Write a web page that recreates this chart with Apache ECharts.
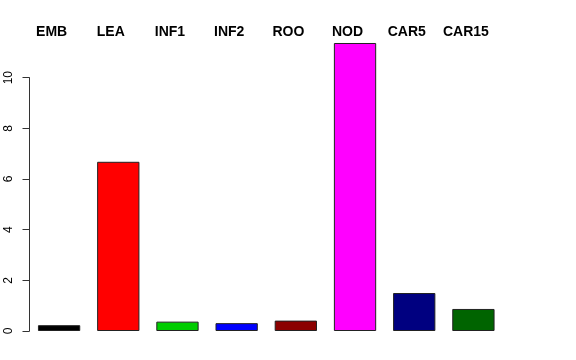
<!DOCTYPE html>
<html>
<head>
<meta charset="utf-8">
<script src="https://cdn.jsdelivr.net/npm/echarts@6/dist/echarts.min.js"></script>
<style>html,body{margin:0;padding:0;background:#fff;}#c{width:576px;height:360px;}</style>
</head>
<body>
<div id="c"></div>
<script>
var categories = ['EMB', 'LEA', 'INF1', 'INF2', 'ROO', 'NOD', 'CAR5', 'CAR15'];
var values = [0.23, 6.68, 0.37, 0.31, 0.41, 11.37, 1.50, 0.87];
var barColors = ['#000000', '#FF0000', '#00CD00', '#0000FF', '#8B0000', '#FF00FF', '#000080', '#006400'];
var yTicks = [0, 2, 4, 6, 8, 10];

var chart = echarts.init(document.getElementById('c'), null, {renderer: 'canvas'});
chart.setOption({
  animation: false,
  backgroundColor: '#ffffff',
  grid: {left: 29.5, right: 73, top: 77.7, bottom: 29, containLabel: false},
  xAxis: {
    type: 'category',
    position: 'top',
    data: categories,
    axisLine: {show: false},
    axisTick: {show: false},
    splitLine: {show: false},
    axisLabel: {
      margin: 39,
      interval: 0,
      fontFamily: 'Liberation Sans, Arial, sans-serif',
      fontWeight: 'bold',
      fontSize: 14,
      color: '#000',
      padding: [0, 15, 0, 0]
    }
  },
  yAxis: {
    type: 'value',
    min: yTicks[0],
    max: yTicks[yTicks.length - 1],
    interval: 2,
    axisLine: {show: true, lineStyle: {color: '#333', width: 1}},
    axisTick: {show: true, length: 7, lineStyle: {color: '#333', width: 1}},
    splitLine: {show: false},
    axisLabel: {
      rotate: 90,
      margin: 15,
      fontFamily: 'Liberation Sans, Arial, sans-serif',
      fontSize: 12,
      color: '#000'
    }
  },
  series: [{
    type: 'bar',
    clip: false,
    barWidth: 42.3,
    data: values.map(function (v, i) {
      return {value: v, itemStyle: {color: barColors[i]}};
    }),
    itemStyle: {borderColor: '#222', borderWidth: 1}
  }]
});
</script>
</body>
</html>
